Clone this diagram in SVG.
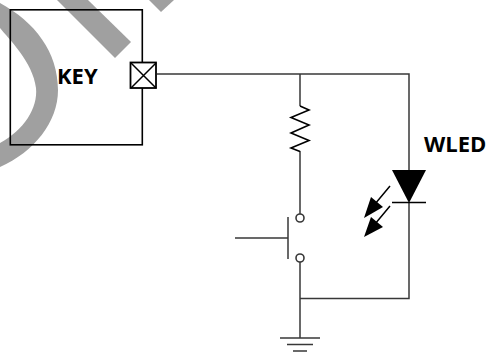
<svg xmlns="http://www.w3.org/2000/svg" width="486" height="352" viewBox="0 0 486 352">
<style>
.w{fill:none;stroke:#383838;stroke-width:1.5}
.k{fill:none;stroke:#000;stroke-width:1.5}
.b{fill:none;stroke:#000;stroke-width:1.6}
.t{font-family:"Open Sans","Noto Sans",sans-serif;font-weight:700;font-size:22px;fill:#000}
.m{fill:#a0a0a0}
</style>
<rect width="486" height="352" fill="#fff"/>
<g id="watermark">
<path class="m" d="M0 3C35 22 58 52 58 90C58 122 34 152 0 167V143C24 130 38 108 36 88C33 62 8 38 0 28Z"/>
<path class="m" d="M57 0H88L131 42L115 58Z"/>
<path class="m" d="M149 0H174L161 12Z"/>
</g>
<g id="key">
<rect class="b" x="10.300" y="9.800" width="132" height="135"/>
<text class="t" x="57" y="84">KEY</text>
</g>
<g id="port">
<rect x="130.500" y="62.500" width="25.500" height="25.500" fill="#fff" stroke="#000" stroke-width="1.8"/>
<path class="k" d="M131 63L156 88M156 63L131 88"/>
</g>
<g id="connectors">
<path class="w" d="M157 74H409V170M409 203V298.500H300M300 74V106M300 151V215M300 262V338"/>
</g>
<g id="resistor">
<path class="b" d="M300 106L309 110L291 117.500L309 125L291 133L309 140.500L291 148L300 151.500"/>
</g>
<g id="switch">
<circle cx="300" cy="218" r="4" fill="#fff" stroke="#383838" stroke-width="1.6"/>
<circle cx="300" cy="258" r="4" fill="#fff" stroke="#383838" stroke-width="1.6"/>
<path class="w" d="M288 217V259M235 238H288"/>
</g>
<g id="wled">
<path d="M392 170H426L409 203Z" fill="#000"/>
<path class="k" d="M392 202.500H426"/>
<path class="k" d="M390 186L375 204M390 206L375 224"/>
<path d="M364 218L371 197L383 207Z" fill="#000"/>
<path d="M364 237L371 217L383 227Z" fill="#000"/>
<text class="t" x="424" y="152">WLED</text>
</g>
<g id="ground">
<path class="w" d="M280 338H320M287 344.500H313M293 351H307"/>
</g>
</svg>
